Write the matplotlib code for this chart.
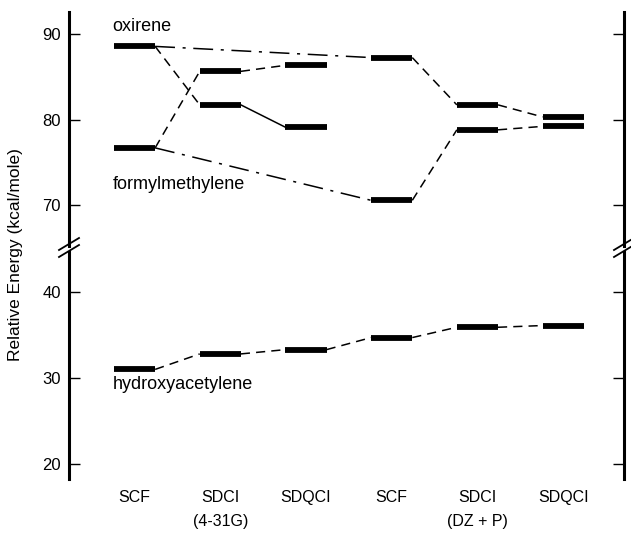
import matplotlib.pyplot as plt
from matplotlib.lines import Line2D

plt.rcParams['font.family'] = ['Liberation Sans', 'DejaVu Sans']

# columns: SCF, SDCI, SDQCI (4-31G) then SCF, SDCI, SDQCI (DZ + P)
methods = ["SCF", "SDCI\n(4-31G)", "SDQCI", "SCF", "SDCI\n(DZ + P)", "SDQCI"]
xpos = [1, 2, 3, 4, 5, 6]

# relative energies in kcal/mole
oxirene = [88.5, 81.7, 79.1, 87.2, 81.7, 80.3]
formylmethylene = [76.7, 85.6, 86.3, 70.6, 78.8, 79.2]
hydroxyacetylene = [31.0, 32.8, 33.3, 34.7, 35.9, 36.1]

upper_ticks = [70, 80, 90]
lower_ticks = [20, 30, 40]

W = 631
H = 545
fig = plt.figure(figsize=(W / 100, H / 100), dpi=100)

# two stacked axes make the broken y axis
left = 69 / W
width = (624 - 69) / W
ax_up = fig.add_axes([left, 1 - 246 / H, width, 234 / H])
ax_lo = fig.add_axes([left, 1 - 479 / H, width, 227 / H])
ax_up.set_ylim(92.5 - 234 / 8.6, 92.5)
ax_lo.set_ylim(40 - 187 / 8.6, 40 + 40 / 8.6)

half = 0.24  # half width of a level bar
dash = (0, (6, 4))
dashdot = (0, (13, 5, 2, 5))


def level(ax, x, y):
    ax.plot([x - half, x + half], [y, y], color="black", lw=4.2, solid_capstyle="butt")


def link(ax, x1, y1, x2, y2, ls):
    ax.plot([x1 + half, x2 - half], [y1, y2], color="black", lw=1.1, linestyle=ls)


for i in range(6):
    level(ax_up, xpos[i], oxirene[i])
    level(ax_up, xpos[i], formylmethylene[i])
    level(ax_lo, xpos[i], hydroxyacetylene[i])

# 4-31G block
link(ax_up, xpos[0], oxirene[0], xpos[1], oxirene[1], dash)
link(ax_up, xpos[1], oxirene[1], xpos[2], oxirene[2], "-")
link(ax_up, xpos[0], formylmethylene[0], xpos[1], formylmethylene[1], dash)
link(ax_up, xpos[1], formylmethylene[1], xpos[2], formylmethylene[2], dash)
# SCF to SCF across basis sets
link(ax_up, xpos[0], oxirene[0], xpos[3], oxirene[3], dashdot)
link(ax_up, xpos[0], formylmethylene[0], xpos[3], formylmethylene[3], dashdot)
# DZ + P block
for i in [3, 4]:
    link(ax_up, xpos[i], oxirene[i], xpos[i + 1], oxirene[i + 1], dash)
    link(ax_up, xpos[i], formylmethylene[i], xpos[i + 1], formylmethylene[i + 1], dash)
for i in range(5):
    link(ax_lo, xpos[i], hydroxyacetylene[i], xpos[i + 1], hydroxyacetylene[i + 1], dash)

ax_up.text(0.74, 90.3, "oxirene", fontsize=13, va="baseline", ha="left")
ax_up.text(0.74, 72.4, "formylmethylene", fontsize=13, va="center", ha="left")
ax_lo.text(0.74, 29.2, "hydroxyacetylene", fontsize=13, va="center", ha="left")

for ax in [ax_up, ax_lo]:
    ax.set_xlim(0.235, 6.71)
    ax.spines["top"].set_visible(False)
    ax.spines["bottom"].set_visible(False)
    ax.spines["left"].set_linewidth(2.2)
    ax.spines["right"].set_linewidth(2.2)
    ax.tick_params(axis="y", direction="in", length=8, width=1, left=True, right=True,
                   labelsize=12, pad=6)

ax_up.set_yticks(upper_ticks)
ax_lo.set_yticks(lower_ticks)
ax_up.set_xticks([])
ax_lo.set_xticks(xpos)
ax_lo.set_xticklabels(methods, fontsize=11.5, linespacing=1.7)
ax_lo.tick_params(axis="x", length=0, pad=8)

fig.text(16 / W, 1 - 255 / H, "Relative Energy (kcal/mole)", rotation=90,
         fontsize=12.5, ha="center", va="center")

# break marks on both spines
for xb in [69, 624]:
    for yb in [244, 251]:
        fig.add_artist(Line2D([(xb - 10) / W, (xb + 10) / W],
                              [1 - (yb + 6) / H, 1 - (yb - 6) / H],
                              color="black", lw=1.3))

fig.savefig("out.png", dpi=100)
